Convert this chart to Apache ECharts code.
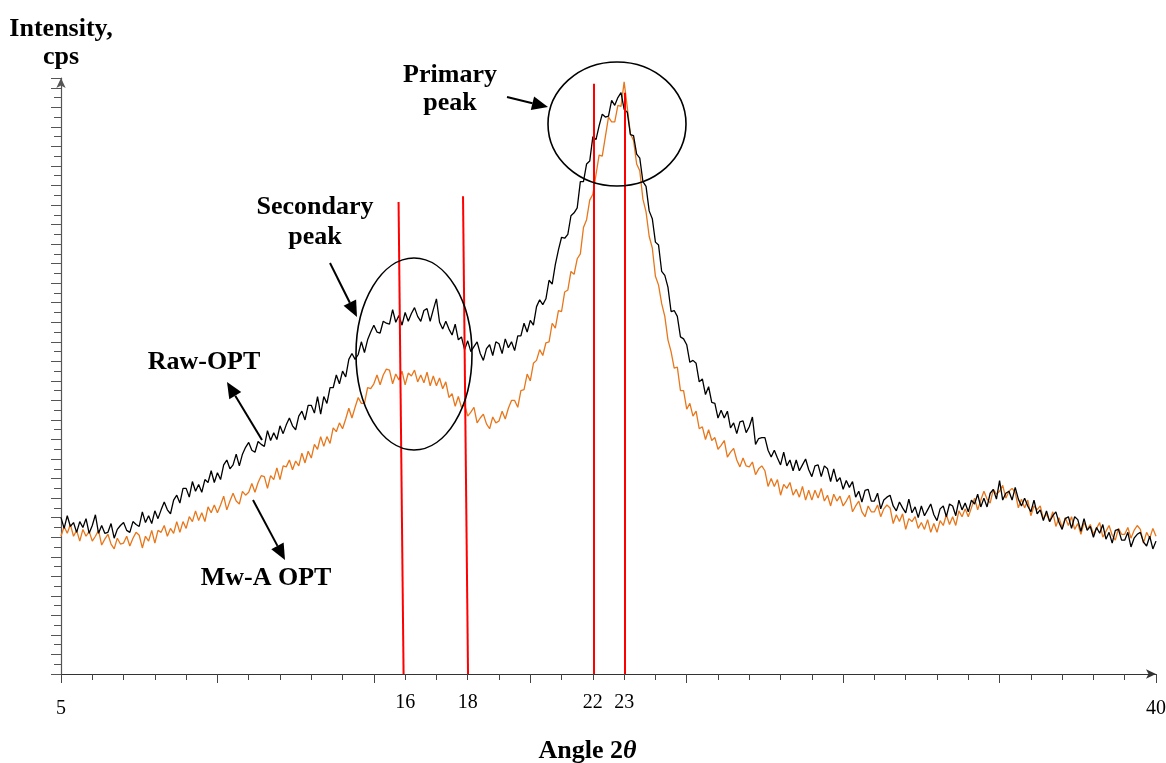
<!DOCTYPE html>
<html>
<head>
<meta charset="utf-8">
<script src="https://cdn.jsdelivr.net/npm/echarts@6/dist/echarts.min.js"></script>
<style>
  html, body { margin: 0; padding: 0; background: #fff; }
  #chart { width: 1166px; height: 763px; }
</style>
</head>
<body>
<div id="chart"></div>
<script>
// angulo 2theta: de 5 a 40 cada 0.1
const angleStart = 5;
const angleStep = 0.1;

// Raw-OPT (negro), intensidad en unidades arbitrarias
const rawOpt = [
160,149,162,151,155, 145,156,150,159,144,
152,163,144,152,144, 145,154,139,148,152,
155,147,145,156,153, 151,166,155,162,154,
167,159,168,176,168, 164,178,183,175,190,
190,181,197,187,194, 186,199,196,208,196,
206,199,214,219,210, 214,225,213,225,232,
237,229,227,238,235, 233,249,239,247,240,
254,246,255,262,254, 250,264,269,260,275,
275,267,284,266,284, 277,293,293,306,297,
310,304,322,328,322, 327,340,329,342,350,
357,350,349,361,359, 358,373,360,367,357,
370,361,369,375,366, 361,372,374,361,373,
384,360,353,361,353, 347,358,342,345,332,
341,330,335,340,328, 321,333,337,326,340,
338,328,343,334,340, 331,346,346,359,350,
362,357,376,383,378, 384,403,399,419,434,
447,446,450,469,472, 477,504,504,522,525,
550,547,561,573,570, 571,587,582,590,595,
578,575,552,551,532, 528,504,499,474,466,
442,439,412,408,396, 371,372,366,345,343,
337,319,321,318,299, 302,286,294,278,277,
262,270,262,269,252, 257,246,258,259,247,
253,263,235,241,242, 242,229,222,229,221,
214,227,213,219,208, 219,208,214,220,209,
202,213,214,202,213, 210,197,210,197,201,
189,198,191,197,181, 187,176,188,189,177,
177,185,169,178,181, 183,172,167,176,170,
165,179,165,171,160, 172,162,168,174,163,
157,169,172,161,174, 172,162,178,168,175,
166,178,174,184,171, 180,171,185,189,179,
198,178,185,187,178, 191,179,172,180,172,
166,178,164,168,157, 167,156,162,166,155,
148,159,161,149,161, 158,146,159,147,151,
140,150,144,153,138, 145,134,147,148,137,
137,145,130,139,143, 145,135,131,141,128,
136
];

// Mw-A OPT (naranja)
const mwaOpt = [
141,151,144,153,141, 147,136,148,141,146,
136,141,147,132,138, 143,133,128,139,133,
134,141,131,139,145, 142,129,141,136,147,
134,147,145,152,141, 149,144,156,145,156,
149,161,156,167,157, 165,156,171,165,173,
165,173,182,168,177, 185,177,174,187,183,
186,195,186,196,203, 202,190,203,199,211,
199,213,212,219,209, 218,213,226,216,228,
221,235,230,243,233, 243,236,252,248,257,
251,261,272,262,273, 283,277,277,293,292,
297,306,296,306,312, 311,297,307,301,310,
296,308,305,311,299, 306,298,309,295,305,
295,303,292,299,283, 287,274,284,273,276,
264,268,273,257,262, 266,256,251,263,257,
259,269,261,272,280, 280,273,290,291,307,
300,318,321,332,326, 339,340,359,354,372,
371,391,393,412,409, 425,430,457,465,485,
491,511,531,530,550, 570,565,565,582,581,
606,580,553,546,522, 515,486,473,448,436,
407,398,379,366,342, 330,313,314,290,290,
271,277,264,269,251, 253,240,250,239,242,
230,234,239,222,227, 231,219,212,221,213,
212,217,204,210,213, 208,192,200,192,199,
183,194,190,196,183, 189,181,192,178,188,
178,188,180,190,177, 183,172,184,177,182,
172,177,183,166,172, 177,166,161,172,166,
166,173,161,169,173, 170,154,163,156,164,
148,159,156,161,149, 155,148,158,145,154,
145,157,152,163,153, 161,152,167,161,169,
161,170,180,168,178, 187,179,175,189,184,
187,193,180,187,190, 186,170,179,170,178,
162,172,168,172,159, 164,156,166,151,160,
150,160,152,161,148, 154,143,155,148,153,
143,149,155,140,146, 152,142,137,149,143,
143,150,139,147,152, 148,134,145,139,149,
141
];

// etiquetas del eje x que se muestran
const angleTicks = [5, 16, 18, 22, 23, 40];

// lineas rojas: [x arriba, y arriba, x abajo, y abajo]
const markerLines = [
    [15.79, 483, 15.95, 0],
    [17.85, 489, 18.01, 0],
    [22.03, 604, 22.03, 0],
    [23.01, 595, 23.01, 0]
];

const serif = '"Liberation Serif", "Times New Roman", serif';

function toPairs(values) {
    return values.map((v, i) => [+(angleStart + i * angleStep).toFixed(1), v]);
}

function arrow(x1, y1, x2, y2) {
    const a = Math.atan2(y2 - y1, x2 - x1);
    const L = 16, W = 7;
    const bx = x2 - L * Math.cos(a), by = y2 - L * Math.sin(a);
    return [
        { type: 'line', shape: { x1: x1, y1: y1, x2: bx, y2: by }, style: { stroke: '#000', lineWidth: 2 } },
        { type: 'polygon', shape: { points: [[x2, y2], [bx + W * Math.sin(a), by - W * Math.cos(a)], [bx - W * Math.sin(a), by + W * Math.cos(a)]] }, style: { fill: '#000' } }
    ];
}

function label(text, x, y) {
    return {
        type: 'text', x: x, y: y,
        style: { text: text, font: 'bold 26px ' + serif, fill: '#000', align: 'center', verticalAlign: 'middle' }
    };
}

const chart = echarts.init(document.getElementById('chart'));

chart.setOption({
    animation: false,
    grid: { left: 61, right: 10, top: 78, bottom: 89, containLabel: false, outerBoundsMode: 'none' },
    xAxis: [{
        type: 'value', min: 5, max: 40, interval: 5,
        axisLine: { show: true, lineStyle: { color: '#333', width: 1.2 }, symbol: ['none', 'arrow'], symbolSize: [7, 10] },
        axisTick: { show: true, length: 9, lineStyle: { color: '#444' } },
        minorTick: { show: true, splitNumber: 5, length: 6, lineStyle: { color: '#444' } },
        axisLabel: { show: false },
        splitLine: { show: false }
    }, {
        type: 'value', min: 5, max: 40, interval: 1, position: 'bottom',
        axisLine: { show: false }, axisTick: { show: false }, splitLine: { show: false },
        axisLabel: {
            margin: 19,
            formatter: v => {
                if (!angleTicks.includes(v)) return '';
                return (v === 5 || v === 40) ? '{lo|' + v + '}' : '{hi|' + v + '}';
            },
            rich: {
                hi: { fontFamily: serif, fontSize: 20, color: '#000' },
                lo: { fontFamily: serif, fontSize: 20, color: '#000', padding: [6, 0, 0, 0] }
            }
        },
        name: 'Angle 2{t|θ}',
        nameLocation: 'middle',
        nameGap: 64,
        nameTextStyle: {
            fontFamily: serif, fontSize: 26, fontWeight: 'bold', color: '#000', padding: [0, 42, 0, 0],
            rich: { t: { fontFamily: serif, fontSize: 26, fontWeight: 'bold', fontStyle: 'italic', color: '#000' } }
        }
    }],
    yAxis: {
        type: 'value', min: 0, max: 610, interval: 20,
        name: 'Intensity,\ncps',
        nameLocation: 'end',
        nameGap: 7,
        nameTextStyle: { fontFamily: serif, fontSize: 26, fontWeight: 'bold', color: '#000', align: 'center', lineHeight: 28 },
        axisLine: { show: true, lineStyle: { color: '#555', width: 1.2 }, symbol: ['none', 'arrow'], symbolSize: [7, 10] },
        axisTick: { show: true, length: 10, lineStyle: { color: '#555' } },
        minorTick: { show: true, splitNumber: 2, length: 7, lineStyle: { color: '#555' } },
        axisLabel: { show: false },
        splitLine: { show: false }
    },
    series: [{
        name: 'Mw-A OPT', type: 'line', xAxisIndex: 0,
        data: toPairs(mwaOpt), showSymbol: false,
        lineStyle: { color: '#E8761A', width: 1.3 }
    }, {
        name: 'Raw-OPT', type: 'line', xAxisIndex: 0,
        data: toPairs(rawOpt), showSymbol: false,
        lineStyle: { color: '#000', width: 1.3 },
        markLine: {
            silent: true, symbol: ['none', 'none'], label: { show: false },
            lineStyle: { color: '#FF0000', width: 2, type: 'solid' },
            data: markerLines.map(m => [{ coord: [m[0], m[1]] }, { coord: [m[2], m[3]] }])
        }
    }],
    graphic: [
        { type: 'ellipse', shape: { cx: 414, cy: 354, rx: 58, ry: 96 }, style: { fill: 'none', stroke: '#000', lineWidth: 1.6 }, z: 100 },
        { type: 'ellipse', shape: { cx: 617, cy: 124, rx: 69, ry: 62 }, style: { fill: 'none', stroke: '#000', lineWidth: 1.6 }, z: 100 },
        label('Primary', 450, 75), label('peak', 450, 103),
        label('Secondary', 315, 207), label('peak', 315, 237),
        label('Raw-OPT', 204, 362),
        label('Mw-A OPT', 266, 578),
        ...arrow(507, 97, 548, 107),
        ...arrow(330, 263, 357, 317),
        ...arrow(262, 440, 227, 382),
        ...arrow(253, 500, 285, 560)
    ]
});
</script>
</body>
</html>
